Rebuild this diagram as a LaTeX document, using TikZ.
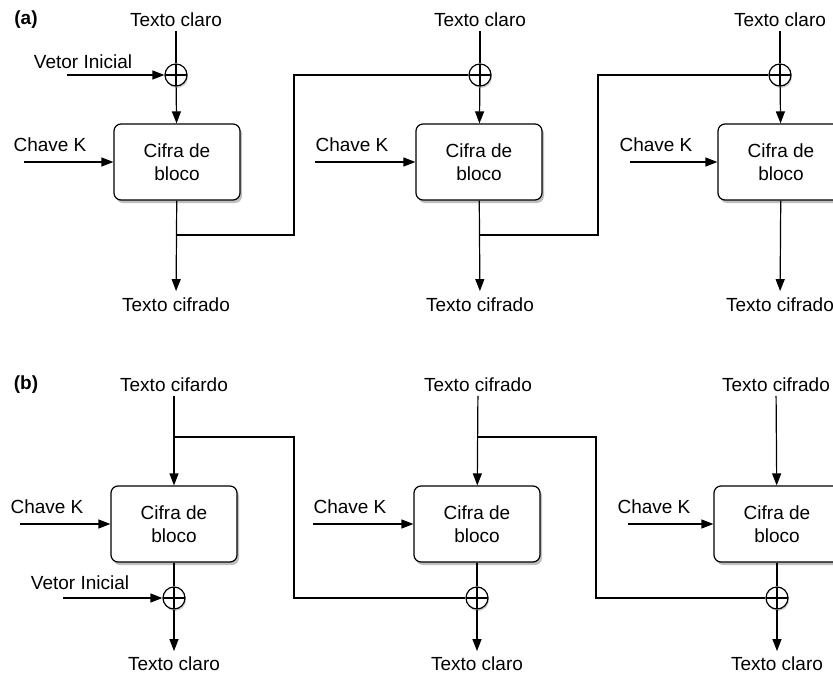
\documentclass[tikz,border=0pt]{standalone}
\usepackage{fontspec}
\setmainfont{Liberation Sans}
\usetikzlibrary{arrows.meta,shadows}

\begin{document}
\begin{tikzpicture}[x=1pt,y=-1pt,line width=1.2pt,font=\fontsize{19}{23}\selectfont]
\tikzstyle{cifra}=[draw, rounded corners=7pt, fill=white, minimum width=126pt, minimum height=76pt, align=center, drop shadow={shadow xshift=2pt, shadow yshift=-3pt, opacity=0.25, fill=black}]
\tikzstyle{xor}=[draw, circle, fill=white, minimum size=22pt, inner sep=0pt, drop shadow={shadow xshift=1pt, shadow yshift=-2pt, opacity=0.2, fill=black}, path picture={\draw (path picture bounding box.north) -- (path picture bounding box.south) (path picture bounding box.west) -- (path picture bounding box.east);}]
\tikzstyle{seta}=[-{Triangle[length=12pt,width=9pt]}]
\clip (0,0) rectangle (833,674);
\fill[white] (0,0) rectangle (833,674);
% (a)
\node (la) at (26,20) {\textbf{(a)}};
\node (pa1) at (176,20) {Texto claro};
\node (pa2) at (480,20) {Texto claro};
\node (pa3) at (780,20) {Texto claro};
\node[xor] (xa1) at (176,75) {};
\node[xor] (xa2) at (480,75) {};
\node[xor] (xa3) at (780,75) {};
\node (va) at (83,62) {Vetor Inicial};
\coordinate (va0) at (67,75);
\node[cifra] (ca1) at (177,162) {Cifra de\\bloco};
\node[cifra] (ca2) at (479,162) {Cifra de\\bloco};
\node[cifra] (ca3) at (781,162) {Cifra de\\bloco};
\node (ka1) at (50,145) {Chave K};
\node (ka2) at (352,145) {Chave K};
\node (ka3) at (656,145) {Chave K};
\coordinate (ka1s) at (24,162);
\coordinate (ka2s) at (315,162);
\coordinate (ka3s) at (630,162);
\node (oa1) at (176,305) {Texto cifrado};
\node (oa2) at (480,305) {Texto cifrado};
\node (oa3) at (780,305) {Texto cifrado};
\coordinate (ba1) at (176,235);
\coordinate (ba2) at (480,235);
\coordinate (fa1) at (294,75);
\coordinate (fa2) at (598,75);
\draw (pa1) -- (xa1);
\draw (pa2) -- (xa2);
\draw (pa3) -- (xa3);
\draw[seta] (va0) -- (xa1);
\draw[seta] (xa1) -- (ca1);
\draw[seta] (xa2) -- (ca2);
\draw[seta] (xa3) -- (ca3);
\draw[seta] (ka1s) -- (ca1);
\draw[seta] (ka2s) -- (ca2);
\draw[seta] (ka3s) -- (ca3);
\draw[seta, shorten >=3pt] (ca1) -- (oa1);
\draw[seta, shorten >=3pt] (ca2) -- (oa2);
\draw[seta, shorten >=3pt] (ca3) -- (oa3);
\draw (ba1) -| (fa1) -- (xa2);
\draw (ba2) -| (fa2) -- (xa3);
% (b)
\node (lb) at (26,385) {\textbf{(b)}};
\node (pb1) at (174,385) {Texto cifardo};
\node (pb2) at (478,385) {Texto cifrado};
\node (pb3) at (776,385) {Texto cifrado};
\node[cifra] (cb1) at (174,524) {Cifra de\\bloco};
\node[cifra] (cb2) at (477,524) {Cifra de\\bloco};
\node[cifra] (cb3) at (777,524) {Cifra de\\bloco};
\node (kb1) at (47,507) {Chave K};
\node (kb2) at (350,507) {Chave K};
\node (kb3) at (654,507) {Chave K};
\coordinate (kb1s) at (20,524);
\coordinate (kb2s) at (313,524);
\coordinate (kb3s) at (628,524);
\node[xor] (xb1) at (174,598) {};
\node[xor] (xb2) at (477,598) {};
\node[xor] (xb3) at (777,598) {};
\node (vb) at (80,583) {Vetor Inicial};
\coordinate (vb0) at (63,598);
\node (ob1) at (174,664) {Texto claro};
\node (ob2) at (477,664) {Texto claro};
\node (ob3) at (777,664) {Texto claro};
\coordinate (bb1) at (174,437);
\coordinate (bb2) at (477,437);
\coordinate (fb1) at (294,598);
\coordinate (fb2) at (596,598);
\draw[seta] (pb1) -- (cb1);
\draw[seta] (pb2) -- (cb2);
\draw[seta] (pb3) -- (cb3);
\draw[seta] (kb1s) -- (cb1);
\draw[seta] (kb2s) -- (cb2);
\draw[seta] (kb3s) -- (cb3);
\draw (cb1) -- (xb1);
\draw (cb2) -- (xb2);
\draw (cb3) -- (xb3);
\draw[seta] (vb0) -- (xb1);
\draw[seta, shorten >=2pt] (xb1) -- (ob1);
\draw[seta, shorten >=2pt] (xb2) -- (ob2);
\draw[seta, shorten >=2pt] (xb3) -- (ob3);
\draw (bb1) -| (fb1) -- (xb2);
\draw (bb2) -| (fb2) -- (xb3);
\end{tikzpicture}
\end{document}
